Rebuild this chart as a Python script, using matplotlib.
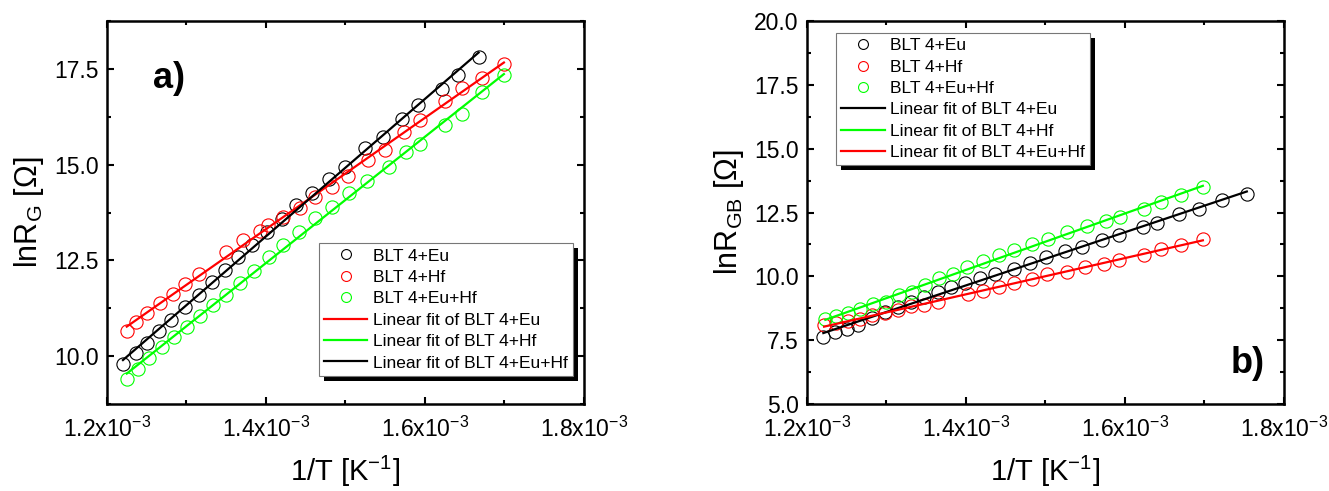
import numpy as np
import matplotlib
matplotlib.use("Agg")
import matplotlib.pyplot as plt
from matplotlib.ticker import MultipleLocator, FuncFormatter
from matplotlib.patches import Rectangle

plt.rcParams['font.family'] = ['Liberation Sans', 'DejaVu Sans']
plt.rcParams['mathtext.fontset'] = 'custom'
plt.rcParams['mathtext.rm'] = 'Liberation Sans'
plt.rcParams['mathtext.it'] = 'Liberation Sans:italic'
plt.rcParams['mathtext.bf'] = 'Liberation Sans:bold'

# ---- panel a) grain resistance, x in 1e-3 K^-1
a_x_eu = [1.2201, 1.2360, 1.2509, 1.2652, 1.2811, 1.2986, 1.3155, 1.3320, 1.3479, 1.3648, 1.3829, 1.4014,
          1.4205, 1.4374, 1.4581, 1.4798, 1.5000, 1.5244, 1.5466, 1.5705, 1.5917, 1.6214, 1.6410, 1.6675]
a_y_eu = [9.80, 10.07, 10.35, 10.65, 10.94, 11.29, 11.60, 11.93, 12.25, 12.58, 12.90, 13.23,
          13.59, 13.94, 14.27, 14.62, 14.94, 15.44, 15.72, 16.18, 16.57, 16.98, 17.35, 17.81]
a_x_hf = [1.2249, 1.2371, 1.2509, 1.2663, 1.2832, 1.2986, 1.3155, 1.3500, 1.3707, 1.3919, 1.4030, 1.4215,
          1.4422, 1.4618, 1.4836, 1.5026, 1.5286, 1.5498, 1.5742, 1.5933, 1.6250, 1.6463, 1.6717, 1.6993]
a_y_hf = [10.65, 10.88, 11.13, 11.39, 11.63, 11.89, 12.15, 12.73, 13.02, 13.28, 13.42, 13.62,
          13.86, 14.15, 14.41, 14.71, 15.12, 15.38, 15.85, 16.16, 16.66, 17.01, 17.27, 17.63]
a_x_euhf = [1.2249, 1.2392, 1.2530, 1.2689, 1.2837, 1.3002, 1.3166, 1.3330, 1.3495, 1.3670, 1.3844, 1.4035,
            1.4215, 1.4417, 1.4618, 1.4825, 1.5048, 1.5275, 1.5546, 1.5758, 1.5933, 1.6250, 1.6463, 1.6717, 1.6993]
a_y_euhf = [9.39, 9.67, 9.96, 10.24, 10.50, 10.76, 11.06, 11.33, 11.60, 11.91, 12.21, 12.58,
            12.91, 13.25, 13.60, 13.90, 14.27, 14.58, 14.93, 15.33, 15.53, 16.03, 16.33, 16.90, 17.33]

# ---- panel b) grain boundary resistance
b_x_eu = [1.2206, 1.2353, 1.2500, 1.2647, 1.2815, 1.2983, 1.3151, 1.3307, 1.3466, 1.3643, 1.3811, 1.3992,
          1.4172, 1.4370, 1.4600, 1.4811, 1.5013, 1.5252, 1.5463, 1.5715, 1.5924, 1.6228, 1.6405, 1.6674,
          1.6931, 1.7227, 1.7533]
b_y_eu = [7.64, 7.83, 7.94, 8.09, 8.36, 8.59, 8.81, 9.01, 9.20, 9.40, 9.57, 9.73,
          9.92, 10.09, 10.27, 10.53, 10.74, 11.01, 11.16, 11.42, 11.62, 11.94, 12.10, 12.43,
          12.62, 12.98, 13.24]
b_x_hf = [1.2215, 1.2360, 1.2510, 1.2661, 1.2817, 1.2983, 1.3144, 1.3305, 1.3477, 1.3649, 1.4025, 1.4213,
          1.4417, 1.4605, 1.4831, 1.5019, 1.5277, 1.5492, 1.5733, 1.5922, 1.6244, 1.6459, 1.6700, 1.6980]
b_y_hf = [8.09, 8.18, 8.26, 8.31, 8.48, 8.55, 8.68, 8.83, 8.87, 9.00, 9.30, 9.42,
          9.57, 9.72, 9.88, 10.09, 10.18, 10.35, 10.50, 10.63, 10.83, 11.09, 11.22, 11.48]
b_x_euhf = [1.2231, 1.2365, 1.2510, 1.2672, 1.2833, 1.2994, 1.3155, 1.3316, 1.3488, 1.3665, 1.3843, 1.4015,
            1.4213, 1.4417, 1.4605, 1.4831, 1.5035, 1.5277, 1.5519, 1.5760, 1.5938, 1.6244, 1.6459, 1.6700, 1.6980]
b_y_euhf = [8.31, 8.44, 8.55, 8.74, 8.91, 9.00, 9.27, 9.40, 9.66, 9.92, 10.11, 10.37,
            10.61, 10.83, 11.05, 11.26, 11.48, 11.74, 11.96, 12.17, 12.33, 12.62, 12.92, 13.18, 13.48]

GREEN = '#00ff00'
RED = '#ff0000'


def fit_line(ax, x, y, color, label):
    x = np.array(x) * 1e-3
    m, c = np.polyfit(x, y, 1)
    xx = np.array([x.min(), x.max()])
    ax.plot(xx, m * xx + c, color=color, lw=1.6, label=label)


def dots(ax, x, y, color, label):
    ax.plot(np.array(x) * 1e-3, y, 'o', mfc='none', mec=color, ms=9.5, mew=0.8, label=label)


def style(ax, ylab, ylim, ymajor):
    ax.set_xlim(1.2e-3, 1.8e-3)
    ax.set_ylim(*ylim)
    ax.xaxis.set_major_locator(MultipleLocator(0.2e-3))
    ax.xaxis.set_minor_locator(MultipleLocator(0.1e-3))
    ax.yaxis.set_major_locator(MultipleLocator(ymajor))
    ax.yaxis.set_minor_locator(MultipleLocator(ymajor / 2))
    ax.xaxis.set_major_formatter(FuncFormatter(lambda v, p: r'%.1fx10$^{-3}$' % (v * 1e3)))
    ax.yaxis.set_major_formatter(FuncFormatter(lambda v, p: '%.1f' % v))
    ax.tick_params(which='both', direction='in', top=True, right=True, width=1.5, labelsize=16.5)
    ax.tick_params(axis='x', pad=9)
    ax.tick_params(axis='y', pad=6)
    ax.tick_params(which='major', length=5)
    ax.tick_params(which='minor', length=3)
    for s in ax.spines.values():
        s.set_linewidth(1.8)
    ax.set_xlabel(r'1/T [K$^{-1}$]', fontsize=21, labelpad=9)
    ax.set_ylabel(ylab, fontsize=22, labelpad=6)


def add_shadow(fig, ax, leg, off=5):
    fig.canvas.draw()
    bb = leg.get_frame().get_window_extent()
    inv = ax.transAxes.inverted()
    (x0, y0), (x1, y1) = inv.transform([[bb.x0 + off, bb.y0 - off], [bb.x1 + off, bb.y1 - off]])
    ax.add_patch(Rectangle((x0, y0), x1 - x0, y1 - y0, transform=ax.transAxes,
                           facecolor='k', edgecolor='none', zorder=4.9, clip_on=False))


fig = plt.figure(figsize=(13.29, 4.91), dpi=100)
ax1 = fig.add_axes([0.0805, 0.1772, 0.3589, 0.780])
ax2 = fig.add_axes([0.6072, 0.1772, 0.3589, 0.780])

# a)
dots(ax1, a_x_eu, a_y_eu, 'k', 'BLT 4+Eu')
dots(ax1, a_x_hf, a_y_hf, RED, 'BLT 4+Hf')
dots(ax1, a_x_euhf, a_y_euhf, GREEN, 'BLT 4+Eu+Hf')
fit_line(ax1, a_x_hf, a_y_hf, RED, 'Linear fit of BLT 4+Eu')
fit_line(ax1, a_x_euhf, a_y_euhf, GREEN, 'Linear fit of BLT 4+Hf')
fit_line(ax1, a_x_eu, a_y_eu, 'k', 'Linear fit of BLT 4+Eu+Hf')
style(ax1, r'lnR$_\mathrm{G}$ [Ω]', (8.75, 18.75), 2.5)
ax1.text(0.13, 0.85, 'a)', transform=ax1.transAxes, fontsize=26, fontweight='bold', ha='center', va='center')

# b)
dots(ax2, b_x_eu, b_y_eu, 'k', 'BLT 4+Eu')
dots(ax2, b_x_hf, b_y_hf, RED, 'BLT 4+Hf')
dots(ax2, b_x_euhf, b_y_euhf, GREEN, 'BLT 4+Eu+Hf')
fit_line(ax2, b_x_eu, b_y_eu, 'k', 'Linear fit of BLT 4+Eu')
fit_line(ax2, b_x_euhf, b_y_euhf, GREEN, 'Linear fit of BLT 4+Hf')
fit_line(ax2, b_x_hf, b_y_hf, RED, 'Linear fit of BLT 4+Eu+Hf')
style(ax2, r'lnR$_\mathrm{GB}$ [Ω]', (5, 20), 2.5)
ax2.text(0.924, 0.107, 'b)', transform=ax2.transAxes, fontsize=26, fontweight='bold', ha='center', va='center')

legs = []
for ax, anchor in [(ax1, (0.444, 0.420)), (ax2, (0.061, 0.969))]:
    leg = ax.legend(loc='upper left', bbox_to_anchor=anchor, borderaxespad=0, fontsize=12.5,
                    frameon=True, fancybox=False, framealpha=1, edgecolor='#777777',
                    borderpad=0.3, labelspacing=0.36, handlelength=2.5, handletextpad=0.3,
                    markerscale=0.75)
    leg.get_frame().set_linewidth(0.8)
    legs.append((ax, leg))

for ax, leg in legs:
    add_shadow(fig, ax, leg)

fig.savefig('out.png', dpi=100)
